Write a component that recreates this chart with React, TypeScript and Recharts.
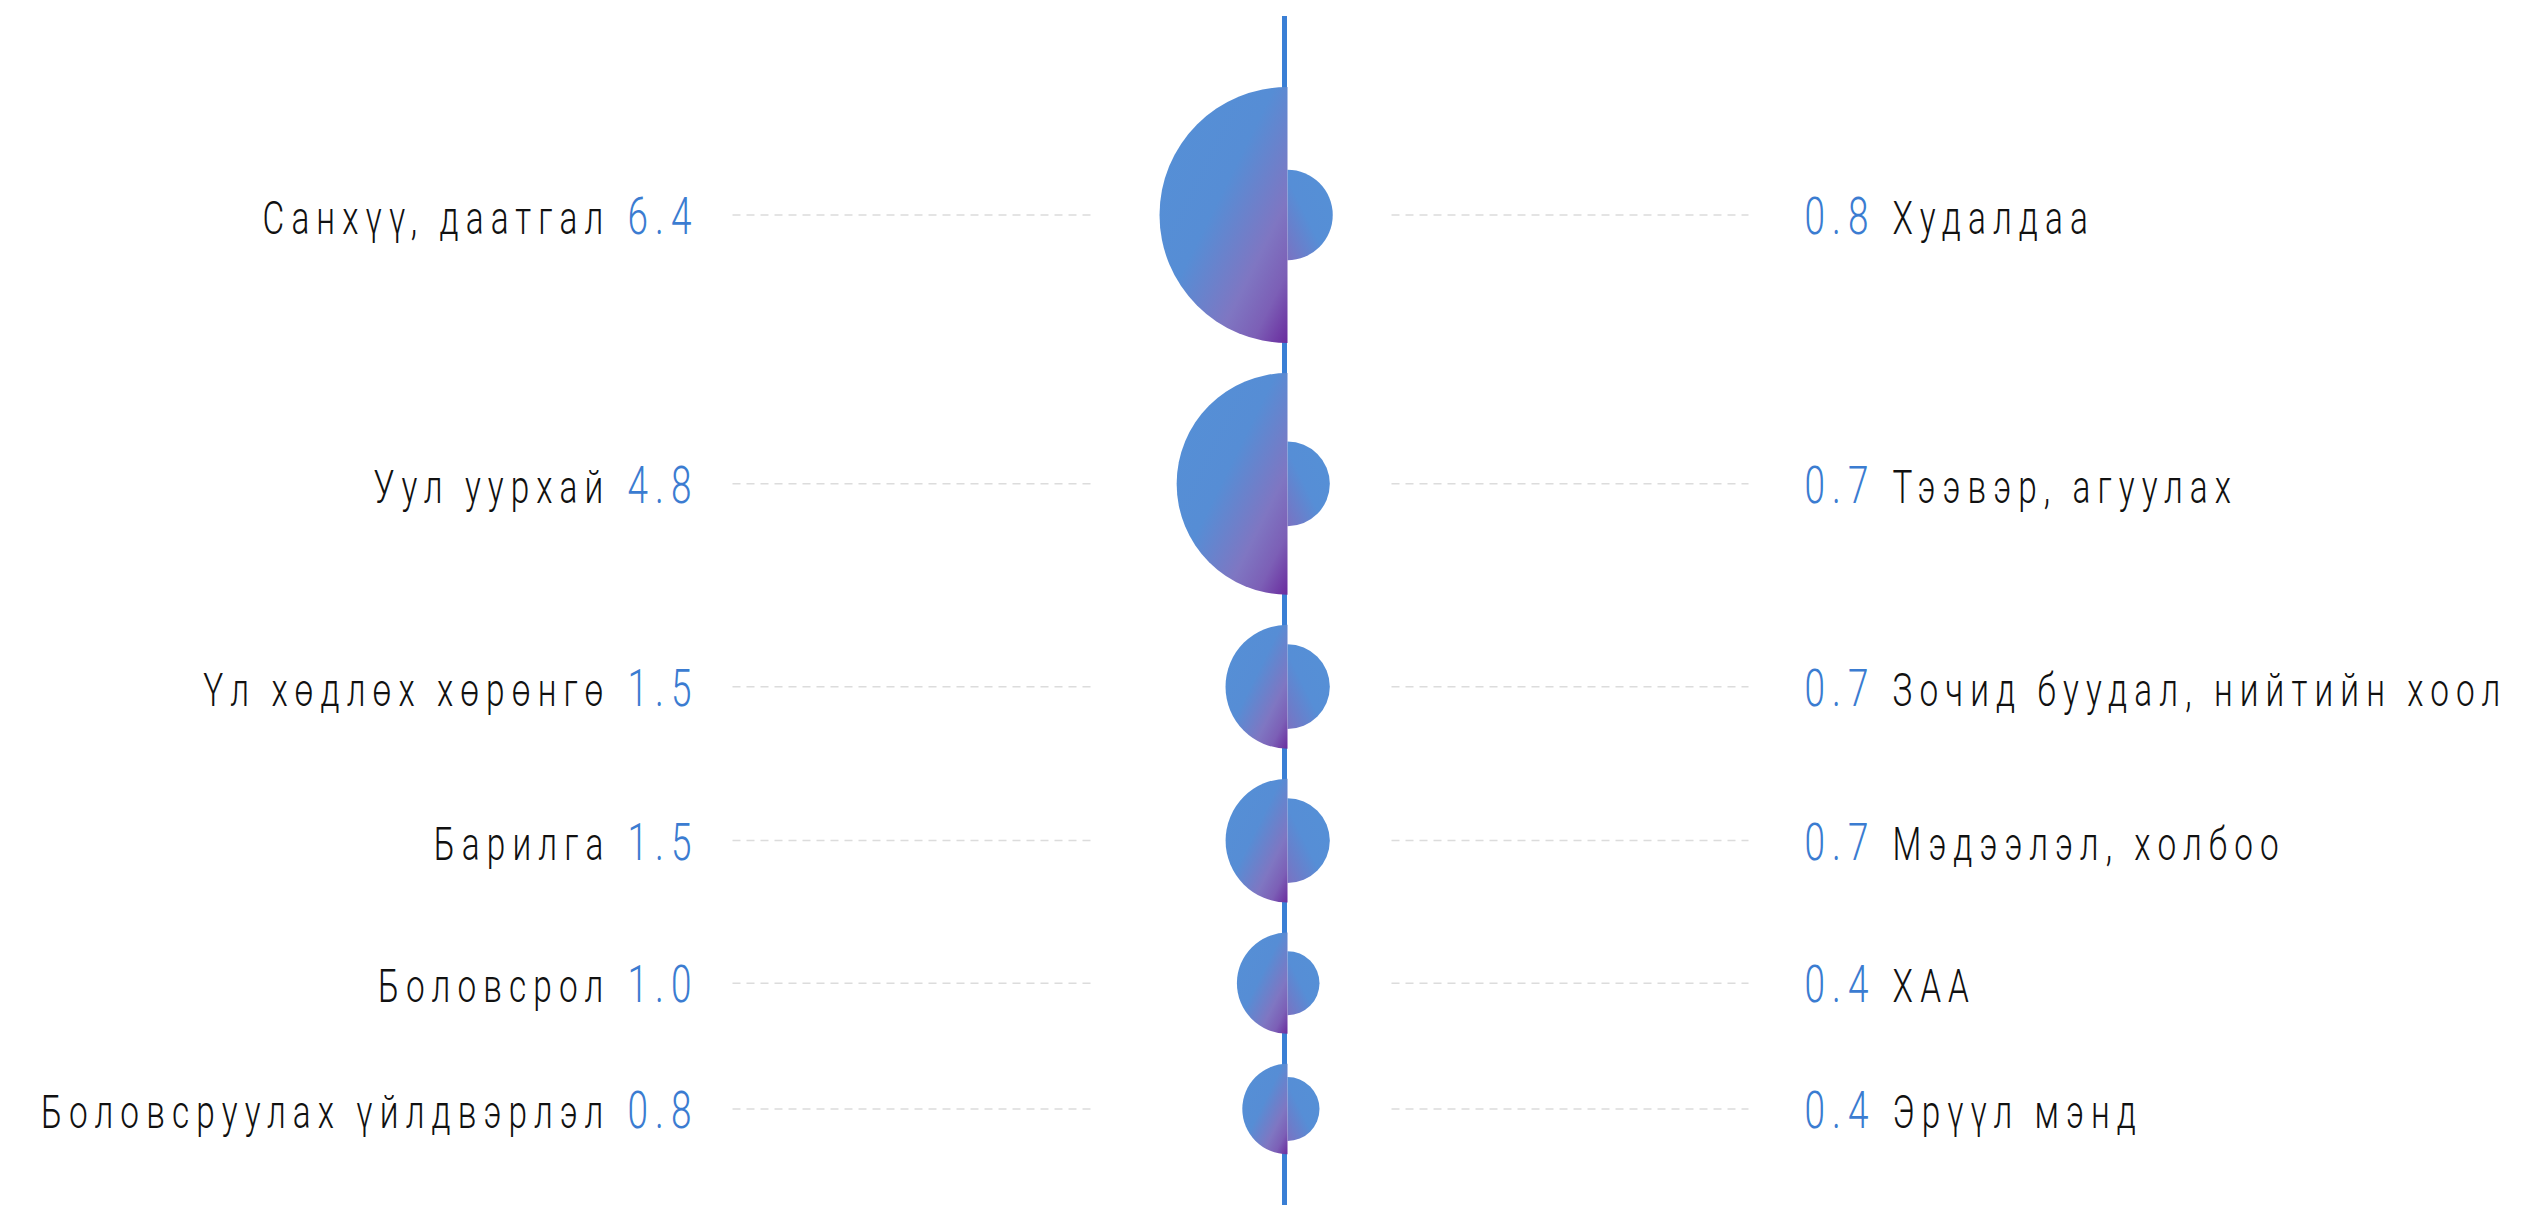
import { ScatterChart, Scatter, XAxis, YAxis, ZAxis, ReferenceLine } from 'recharts';

// sectors on the left side of the axis and their values
const leftSectors = ['Санхүү, даатгал', 'Уул уурхай', 'Үл хөдлөх хөрөнгө', 'Барилга', 'Боловсрол', 'Боловсруулах үйлдвэрлэл'];
const leftValues = [6.4, 4.8, 1.5, 1.5, 1.0, 0.8];

// sectors on the right side
const rightSectors = ['Худалдаа', 'Тээвэр, агуулах', 'Зочид буудал, нийтийн хоол', 'Мэдээлэл, холбоо', 'ХАА', 'Эрүүл мэнд'];
const rightValues = [0.8, 0.7, 0.7, 0.7, 0.4, 0.4];

const CHART_W = 2514;
const CHART_H = 1205;
const PLOT_H = CHART_H - 8;
const R_MAX = 128;
const V_MAX = 6.4;
const TOP_PAD = 71;
const ROW_GAP = 30;

const BLUE = '#3a7fd5';
const VALUE_BLUE = '#3b7cd1';
const FONT = 'Roboto, "Liberation Sans", sans-serif';

const radius = (v: number) => R_MAX * Math.sqrt(v / V_MAX);

// stack rows so the bubbles keep an even gap between them
const rowY: number[] = [];
leftValues.forEach((v, i) => {
    const r = Math.max(radius(v), radius(rightValues[i]));
    if (i === 0) {
        rowY.push(TOP_PAD + r);
    } else {
        const prev = Math.max(radius(leftValues[i - 1]), radius(rightValues[i - 1]));
        rowY.push(rowY[i - 1] + prev + r + ROW_GAP);
    }
});

const leftData = leftSectors.map((name, i) => ({ name, x: 0, y: rowY[i], z: leftValues[i] }));
const rightData = rightSectors.map((name, i) => ({ name, x: 0, y: rowY[i], z: rightValues[i] }));

const SCALE_X = 0.71;
const NAME_SIZE = 47;
const VALUE_SIZE = 52;
const SPACING = '10px';

function LeftBubble(props: any) {
    const { cx, cy, width, payload } = props;
    const r = width / 2;
    const edge = cx + 3;
    return (
        <g>
            <line x1={cx - 552} x2={cx - 194} y1={cy} y2={cy} stroke="#dcdcdc" strokeWidth={1.5} strokeDasharray="8 6" />
            <path d={`M ${edge} ${cy - r} A ${r} ${r} 0 0 0 ${edge} ${cy + r} Z`} fill="url(#leftGrad)" />
            <g transform={`translate(${cx - 586}, ${cy + 19}) scale(${SCALE_X}, 1)`}>
                <text x={0} y={0} textAnchor="end" fontFamily={FONT} fontWeight={300} style={{ letterSpacing: SPACING }}>
                    <tspan fill="#111111" fontSize={NAME_SIZE}>{payload.name}</tspan>
                    <tspan fill={VALUE_BLUE} fontSize={VALUE_SIZE} dx={24}>{payload.z.toFixed(1)}</tspan>
                </text>
            </g>
        </g>
    );
}

function RightBubble(props: any) {
    const { cx, cy, width, payload } = props;
    const r = width / 2;
    const edge = cx + 3;
    return (
        <g>
            <line x1={cx + 107} x2={cx + 464} y1={cy} y2={cy} stroke="#dcdcdc" strokeWidth={1.5} strokeDasharray="8 6" />
            <path d={`M ${edge} ${cy - r} A ${r} ${r} 0 0 1 ${edge} ${cy + r} Z`} fill="url(#rightGrad)" />
            <g transform={`translate(${cx + 520}, ${cy + 19}) scale(${SCALE_X}, 1)`}>
                <text x={0} y={0} textAnchor="start" fontFamily={FONT} fontWeight={300} style={{ letterSpacing: SPACING }}>
                    <tspan fill={VALUE_BLUE} fontSize={VALUE_SIZE}>{payload.z.toFixed(1)}</tspan>
                    <tspan fill="#111111" fontSize={NAME_SIZE} dx={24}>{payload.name}</tspan>
                </text>
            </g>
        </g>
    );
}

export default function App() {
    return (
        <div style={{ width: 2522, height: 1197, overflow: 'hidden' }}>
            <ScatterChart width={CHART_W} height={CHART_H} margin={{ top: 8, right: 0, left: 39, bottom: 0 }}>
                <defs>
                    <linearGradient id="leftGrad" x1="0" y1="0" x2="1" y2="1">
                        <stop offset="0%" stopColor="#5590d6" />
                        <stop offset="45%" stopColor="#568dd5" />
                        <stop offset="72%" stopColor="#7f76c2" />
                        <stop offset="86%" stopColor="#7c5fb6" />
                        <stop offset="100%" stopColor="#6a2b9e" />
                    </linearGradient>
                    <linearGradient id="rightGrad" x1="1" y1="0" x2="0" y2="1">
                        <stop offset="0%" stopColor="#5590d6" />
                        <stop offset="55%" stopColor="#568ed6" />
                        <stop offset="100%" stopColor="#7a72c2" />
                    </linearGradient>
                </defs>
                <XAxis type="number" dataKey="x" domain={[-1, 1]} hide />
                <YAxis type="number" dataKey="y" domain={[0, PLOT_H]} reversed hide />
                <ZAxis type="number" dataKey="z" domain={[0, V_MAX]} range={[0, Math.PI * R_MAX * R_MAX]} />
                <ReferenceLine x={0} stroke={BLUE} strokeWidth={5} />
                <Scatter data={leftData} shape={(p: any) => <LeftBubble {...p} />} isAnimationActive={false} />
                <Scatter data={rightData} shape={(p: any) => <RightBubble {...p} />} isAnimationActive={false} />
            </ScatterChart>
        </div>
    );
}
